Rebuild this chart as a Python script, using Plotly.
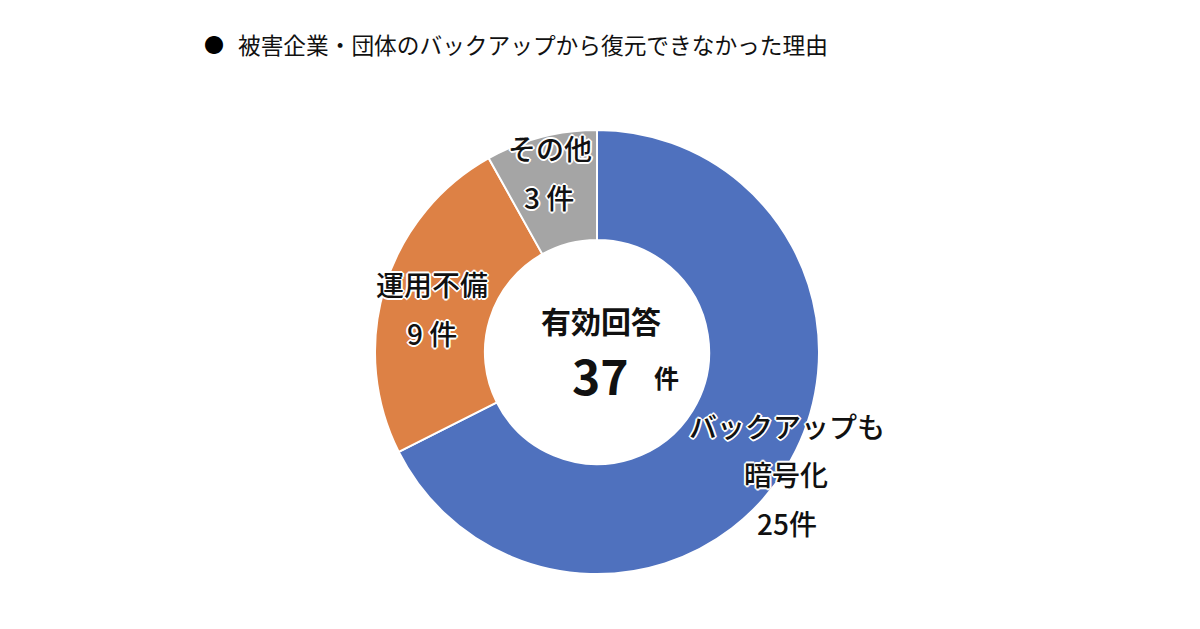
import plotly.graph_objects as go

categories = ["バックアップも暗号化", "運用不備", "その他"]
counts = [25, 9, 3]
colors = ["#4F71BE", "#DD8145", "#A5A5A5"]
label_lines = [["バックアップも", "暗号化", "25件"], ["運用不備", "9 件"], ["その他", "3 件"]]
title_text = "被害企業・団体のバックアップから復元できなかった理由"
center_title = "有効回答"
total = sum(counts)

W, H = 1200, 629
OFF = 8  # page body margin offset
cx, cy, R = 597 - OFF, 352 - OFF, 222

def px(x):
    return (x - OFF) / W

def py(y):
    return 1 - (y - OFF) / H

fig = go.Figure(go.Pie(
    labels=categories, values=counts, sort=False, direction="clockwise", rotation=0,
    hole=0.505, marker=dict(colors=colors, line=dict(color="white", width=2)),
    textinfo="none", hoverinfo="label+value", showlegend=False,
    domain=dict(x=[(cx - R) / W, (cx + R) / W], y=[1 - (cy + R) / H, 1 - (cy - R) / H]),
))

halo = ("1px 1px 0 #fff, -1px -1px 0 #fff, 1px -1px 0 #fff, -1px 1px 0 #fff, "
        "2px 0 0 #fff, -2px 0 0 #fff, 0 2px 0 #fff, 0 -2px 0 #fff")
FONT = "Noto Sans CJK JP"

def ann(text, x, y, size, weight=700, shadow=halo, xanchor="center", color="#111"):
    fig.add_annotation(text=text, x=px(x), y=py(y), xref="paper", yref="paper",
                       showarrow=False, xanchor=xanchor, yanchor="middle",
                       font=dict(family=FONT, size=size, color=color, weight=weight, shadow=shadow))

# slice labels
label_pos = [[(787, 426), (786, 474), (787, 523)], [(432, 284), (432, 333)], [(550, 148), (549, 197)]]
for lines, poss in zip(label_lines, label_pos):
    for t, (x, y) in zip(lines, poss):
        ann(t, x, y, 28, weight=500)

# center
ann(center_title, 601, 320, 30)
ann(str(total), 600, 374, 48)
ann("件", 666, 377, 25)

# title
ann("●", 214, 44, 20, weight=400, shadow="none", color="#000")
ann(title_text, 236, 44, 22.7, weight=400, shadow="none", xanchor="left")

fig.update_layout(width=W, height=H, margin=dict(l=0, r=0, t=0, b=0),
                  paper_bgcolor="white", plot_bgcolor="white")
fig.write_html("out.html")
